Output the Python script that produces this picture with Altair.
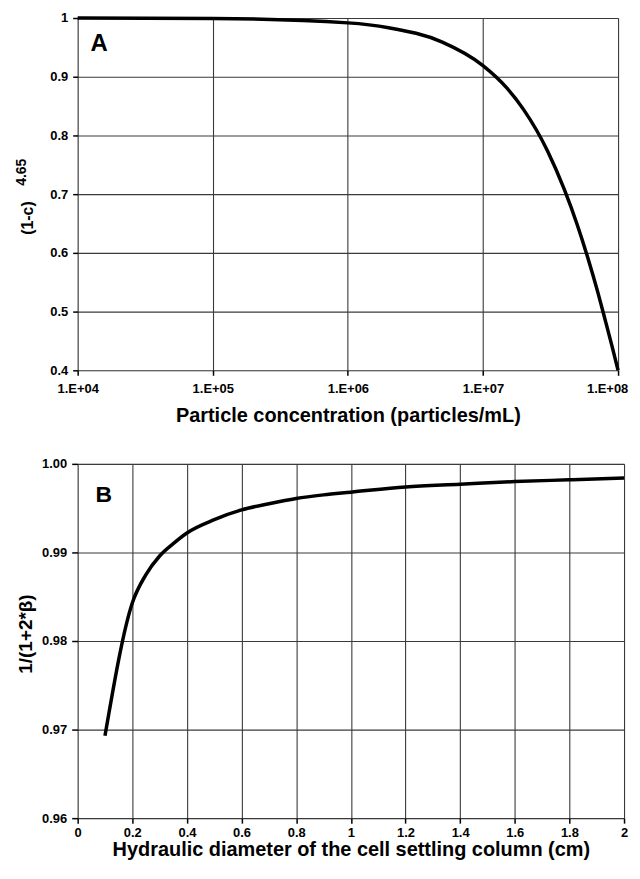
import altair as alt
import pandas as pd

# Panel A: (1-c)^4.65 vs particle concentration
conc = [1e4, 1e5, 1e6, 2e6, 5e6, 1e7, 1.5e7, 2e7, 3e7, 4e7, 5e7, 6e7, 7e7, 8e7, 9e7, 1e8]
hind = [1.0, 0.9992, 0.9917, 0.9835, 0.959, 0.919, 0.881, 0.844, 0.774, 0.708, 0.647, 0.590, 0.537, 0.487, 0.442, 0.40]
a_xticks = [1e4, 1e5, 1e6, 1e7, 1e8]
a_yticks = [0.4, 0.5, 0.6, 0.7, 0.8, 0.9, 1.0]

# Panel B: 1/(1+2*beta) vs hydraulic diameter
diam = [0.1, 0.2, 0.25, 0.3, 0.35, 0.4, 0.5, 0.6, 0.7, 0.8, 0.9, 1.0, 1.2, 1.4, 1.6, 1.8, 2.0]
wall = [0.9693, 0.9843, 0.9875, 0.9896, 0.9910, 0.9922, 0.9937, 0.9948, 0.9955, 0.9961, 0.9965, 0.9968,
        0.9974, 0.9977, 0.9980, 0.9982, 0.9984]
b_xticks = [0, 0.2, 0.4, 0.6, 0.8, 1, 1.2, 1.4, 1.6, 1.8, 2]
b_yticks = [0.96, 0.97, 0.98, 0.99, 1.00]

FONT = "Liberation Sans"

dfa = pd.DataFrame({"x": conc, "y": hind})
dfb = pd.DataFrame({"x": diam, "y": wall})

axis_common = dict(
    grid=True, gridColor="#3a3a3a", gridWidth=1.1, gridOpacity=1,
    domain=False, ticks=True, tickColor="black", tickWidth=1.5,
    labelFont=FONT, labelFontSize=13, labelFontWeight="bold", labelColor="black",
    titleFont=FONT, titleFontWeight="bold", titleColor="black",
)


def txt(t, size, x, y, angle=0, align="center", baseline="middle", opacity=1.0):
    kw = dict(font=FONT, fontSize=size, fontWeight="bold", color="black",
              align=align, baseline=baseline, opacity=opacity)
    if angle:
        kw["angle"] = angle
    return alt.Chart(pd.DataFrame({"t": [t]})).mark_text(**kw).encode(
        text="t:N", x=alt.value(x), y=alt.value(y))


# ---- Panel A
lineA = alt.Chart(dfa).mark_line(color="black", strokeWidth=3.5, interpolate="monotone").encode(
    x=alt.X("x:Q", scale=alt.Scale(type="log", domain=[1e4, 1e8]),
            axis=alt.Axis(values=a_xticks, labelExpr="'1.E+0' + round(log(datum.value)/LN10)",
                          title="Particle concentration (particles/mL)", titleFontSize=20,
                          tickSize=5, labelPadding=7, titlePadding=10, labelFlush=False,
                          labelOffset={"condition": {"test": "datum.value > 50000000", "value": -11}, "value": 0},
                          **axis_common)),
    y=alt.Y("y:Q", scale=alt.Scale(domain=[0.4, 1.0]),
            axis=alt.Axis(values=a_yticks, labelExpr="datum.value == 1 ? '1' : format(datum.value, '.1f')",
                          title=None, tickSize=5, labelPadding=5, **axis_common)),
)
panelA = alt.layer(
    lineA,
    txt("A", 24, 13, 33, align="left", baseline="alphabetic"),
    txt("(1-c)", 16, -50, 201, angle=270),
    txt("4.65", 14, -56, 155, angle=270),
).properties(width=543, height=354)

# ---- Panel B
lineB = alt.Chart(dfb).mark_line(color="black", strokeWidth=3.5, interpolate="monotone").encode(
    x=alt.X("x:Q", scale=alt.Scale(domain=[0, 2], nice=False),
            axis=alt.Axis(values=b_xticks, format="~g",
                          title="Hydraulic diameter of the cell settling column (cm)", titleFontSize=20,
                          tickSize=5, labelPadding=3, titlePadding=1, labelFlush=False,
                          **axis_common)),
    y=alt.Y("y:Q", scale=alt.Scale(domain=[0.96, 1.0], nice=False, zero=False),
            axis=alt.Axis(values=b_yticks, format=".2f", title=None,
                          tickSize=6, labelPadding=5, **axis_common)),
)
panelB = alt.layer(
    lineB,
    txt("B", 23, 18, 38, align="left", baseline="alphabetic"),
    txt("1/(1+2*β)", 19, -52, 171, angle=270),
    txt("|", 10, -69, 200, align="left", opacity=0),
).properties(width=549, height=356)

chart = alt.vconcat(panelA, panelB, spacing=31).properties(
    padding={"top": 0, "left": 0, "right": 0, "bottom": 0}
).configure_view(stroke="black", strokeWidth=3).configure(background="white")

chart.save("out.html", embed_options={"renderer": "svg", "actions": False})
